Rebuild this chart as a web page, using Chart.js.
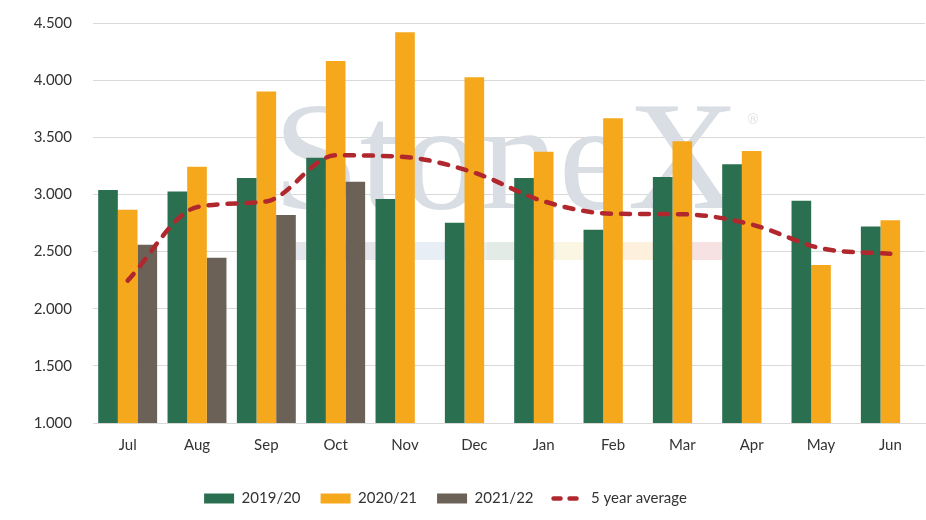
<!DOCTYPE html>
<html>
<head>
<meta charset="utf-8">
<script src="https://cdn.jsdelivr.net/npm/chart.js@4/dist/chart.umd.min.js"></script>
<style>
  html, body { margin: 0; padding: 0; background: #ffffff; }
  #wrap { width: 926px; height: 520px; position: relative; }
</style>
</head>
<body>
<div id="wrap"><canvas id="c" width="926" height="520"></canvas></div>
<script>
const categories = ['Jul','Aug','Sep','Oct','Nov','Dec','Jan','Feb','Mar','Apr','May','Jun'];
const s2019 = [3038, 3026, 3143, 3322, 2959, 2752, 3143, 2690, 3152, 3263, 2945, 2719];
const s2020 = [2866, 3243, 3901, 4167, 4418, 4026, 3374, 3667, 3465, 3380, 2383, 2775];
const s2021 = [2559, 2445, 2819, 3111, null, null, null, null, null, null, null, null];
const avg5 = [2246, 2889, 2939, 3342, 3327, 3190, 2940, 2831, 2827, 2737, 2529, 2480];
const seriesNames = ['2019/20', '2020/21', '2021/22', '5 year average'];
const yTicks = [1000, 1500, 2000, 2500, 3000, 3500, 4000, 4500];

const FONT = 'Lato, "Noto Sans", sans-serif';
const GREEN = '#2A7050', ORANGE = '#F5A81C', GRAY = '#6B6157', RED = '#B0282E';

const watermark = {
  id: 'watermark',
  beforeDatasetsDraw(chart) {
    const ctx = chart.ctx;
    ctx.save();
    const strip = [[295,410,'#e3e7ec'],[410,487,'#e7eef6'],[487,555,'#e2ebe5'],[555,623,'#fbf6e4'],[623,655,'#fdf0dc'],[655,722,'#f6e2e3']];
    strip.forEach(s => { ctx.fillStyle = s[2]; ctx.fillRect(s[0], 242, s[1]-s[0], 18); });
    ctx.fillStyle = '#d9dee4';
    ctx.font = '155px "Liberation Serif", "DejaVu Serif", serif';
    ctx.textBaseline = 'alphabetic';
    const w = ctx.measureText('StoneX').width;
    ctx.save();
    ctx.translate(273, 208);
    ctx.scale(467 / w, 1);
    ctx.fillText('StoneX', 0, 0);
    ctx.restore();
    ctx.font = '14px "DejaVu Sans", sans-serif';
    ctx.fillStyle = '#dfe3e8';
    ctx.fillText('®', 746, 124);
    ctx.restore();
  }
};

const legendShift = {
  id: 'legendShift',
  afterLayout(chart) {
    const lg = chart.legend;
    if (!lg) return;
    lg.left -= 17; lg.right -= 17;
    lg.top += 4; lg.bottom += 4;
  }
};

new Chart(document.getElementById('c'), {
  data: {
    labels: categories,
    datasets: [
      { type: 'bar', label: seriesNames[0], data: s2019, backgroundColor: GREEN, order: 1 },
      { type: 'bar', label: seriesNames[1], data: s2020, backgroundColor: ORANGE, order: 1 },
      { type: 'bar', label: seriesNames[2], data: s2021, backgroundColor: GRAY, order: 1 },
      { type: 'line', label: seriesNames[3], data: avg5, borderColor: RED, backgroundColor: RED,
        borderWidth: 4.5, borderDash: [9, 10], borderCapStyle: 'round',
        cubicInterpolationMode: 'monotone',
        pointRadius: 0, fill: false, order: 0 }
    ]
  },
  options: {
    responsive: false,
    animation: false,
    devicePixelRatio: 1,
    layout: { padding: { top: 23, right: 1, left: 0, bottom: 8 } },
    datasets: { bar: { barPercentage: 1.0, categoryPercentage: 0.85 } },
    scales: {
      x: {
        grid: { display: false, drawTicks: false },
        border: { display: true, color: '#d9d9d9', width: 1 },
        ticks: { color: '#333333', font: { family: FONT, size: 15 }, padding: 13 }
      },
      y: {
        min: 1000, max: 4500,
        afterFit(scale) { scale.width = 93; scale.paddingTop = 0; scale.paddingBottom = 0; },
        afterBuildTicks(scale) { scale.ticks = yTicks.map(v => ({ value: v })); },
        grid: { color: '#d9d9d9', lineWidth: 1, drawTicks: false },
        border: { display: false },
        ticks: {
          color: '#333333', font: { family: FONT, size: 15 }, padding: 21,
          callback: v => v.toLocaleString('de-DE', { minimumFractionDigits: 0 }).replace(/,/g, '.')
        }
      }
    },
    plugins: {
      tooltip: { enabled: false },
      legend: {
        position: 'bottom',
        labels: {
          color: '#333333',
          font: { family: FONT, size: 15 },
          usePointStyle: true,
          pointStyleWidth: 30,
          boxHeight: 10,
          padding: 20,
          sort: (a, b) => a.datasetIndex - b.datasetIndex,
          generateLabels(chart) {
            const items = Chart.defaults.plugins.legend.labels.generateLabels(chart);
            return items.map(it => {
              const ds = chart.data.datasets[it.datasetIndex];
              it.text = ds.label;
              if (ds.type === 'line') {
                it.pointStyle = 'line';
                it.lineWidth = 4.5;
                it.lineDash = [7, 9];
                it.lineCap = 'round';
                it.strokeStyle = RED;
                it.fillStyle = RED;
              } else {
                it.pointStyle = 'rect';
                it.lineWidth = 0;
                it.lineDash = [];
                it.strokeStyle = ds.backgroundColor;
                it.fillStyle = ds.backgroundColor;
              }
              return it;
            });
          }
        }
      }
    }
  },
  plugins: [watermark, legendShift]
});
</script>
</body>
</html>
